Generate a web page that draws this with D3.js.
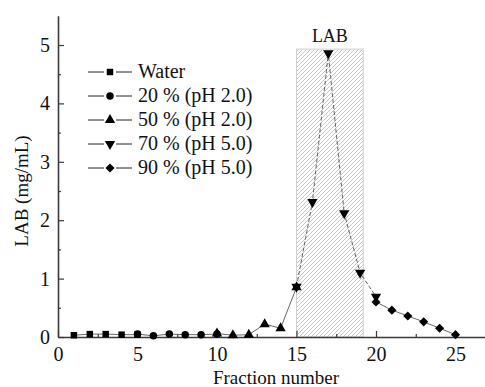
<!DOCTYPE html>
<html>
<head>
<meta charset="utf-8">
<script src="https://cdn.jsdelivr.net/npm/d3@7"></script>
<style>
  html, body { margin: 0; padding: 0; background: #fff; }
  svg text { font-family: "Liberation Serif", "Times New Roman", serif; fill: #111; }
</style>
</head>
<body>
<div id="chart"></div>
<script>
(function () {
    "use strict";

    const width = 485;
    const height = 387;
    const serif = "'Liberation Serif', 'Times New Roman', serif";

    // Values
    const seriesNames = ["Water", "20 % (pH 2.0)", "50 % (pH 2.0)", "70 % (pH 5.0)", "90 % (pH 5.0)"];
    const waterX = [1, 2, 3, 4, 5];
    const waterY = [0.03, 0.05, 0.05, 0.04, 0.04];
    const ph20X = [5, 6, 7, 8, 9, 10];
    const ph20Y = [0.05, 0.02, 0.05, 0.04, 0.04, 0.05];
    const ph50X = [10, 11, 12, 13, 14, 15];
    const ph50Y = [0.06, 0.03, 0.04, 0.22, 0.15, 0.85];
    const ph70X = [15, 16, 17, 18, 19, 20];
    const ph70Y = [0.86, 2.31, 4.86, 2.12, 1.10, 0.69];
    const ph90X = [20, 21, 22, 23, 24, 25];
    const ph90Y = [0.60, 0.46, 0.36, 0.26, 0.15, 0.04];
    const labRange = [15, 19.2];
    const labTop = 4.93;
    const xTicks = [0, 5, 10, 15, 20, 25];
    const yTicks = [0, 1, 2, 3, 4, 5];

    const series = [
        { name: seriesNames[0], xs: waterX, ys: waterY, symbol: "square" },
        { name: seriesNames[1], xs: ph20X, ys: ph20Y, symbol: "circle" },
        { name: seriesNames[2], xs: ph50X, ys: ph50Y, symbol: "triangle" },
        { name: seriesNames[3], xs: ph70X, ys: ph70Y, symbol: "down", dashed: true },
        { name: seriesNames[4], xs: ph90X, ys: ph90Y, symbol: "diamond" }
    ];

    const x = d3.scaleLinear().domain([0, 27]).range([58, 58 + 27 * 15.9]);
    const y = d3.scaleLinear().domain([0, 5.5]).range([337, 337 - 5.5 * 58.4]);

    const svg = d3.select("#chart").append("svg")
        .attr("width", width)
        .attr("height", height)
        .attr("font-family", serif);

    const defs = svg.append("defs");
    const pat = defs.append("pattern")
        .attr("id", "hatch")
        .attr("patternUnits", "userSpaceOnUse")
        .attr("width", 4)
        .attr("height", 4);
    pat.append("path")
        .attr("d", "M-1,1 l2,-2 M0,4 l4,-4 M3,5 l2,-2")
        .attr("stroke", "#b8b8b8")
        .attr("stroke-width", 0.8);

    // shaded LAB region
    svg.append("rect")
        .attr("x", x(labRange[0]))
        .attr("y", y(labTop))
        .attr("width", x(labRange[1]) - x(labRange[0]))
        .attr("height", y(0) - y(labTop))
        .attr("fill", "url(#hatch)")
        .attr("stroke", "#d0d0d0")
        .attr("stroke-width", 1);

    svg.append("text")
        .attr("x", (x(labRange[0]) + x(labRange[1])) / 2)
        .attr("y", 42)
        .attr("text-anchor", "middle")
        .attr("font-size", 18)
        .text("LAB");

    // axes
    const axisColor = "#3a3a3a";
    const fmt = d3.format("d");
    const xAxis = d3.axisBottom(x).tickValues(xTicks).tickFormat(fmt).tickSize(-6).tickPadding(10).tickSizeOuter(0);
    const gx = svg.append("g").attr("transform", `translate(0,${y(0)})`).call(xAxis);
    gx.attr("font-family", serif);
    gx.select(".domain").attr("stroke", axisColor).attr("stroke-width", 1.6);
    gx.selectAll(".tick line").attr("stroke", axisColor).attr("stroke-width", 1.2);
    gx.selectAll(".tick text").attr("font-size", 20).attr("fill", "#111");
    const gxm = svg.append("g").attr("transform", `translate(0,${y(0)})`)
        .call(d3.axisBottom(x).tickValues(d3.range(2.5, 27, 5)).tickSize(-3).tickFormat(""));
    gxm.select(".domain").remove();
    gxm.selectAll(".tick line").attr("stroke", axisColor).attr("stroke-width", 1.2);

    const yAxis = d3.axisLeft(y).tickValues(yTicks).tickFormat(fmt).tickSize(-6).tickPadding(8).tickSizeOuter(0);
    const gy = svg.append("g").attr("transform", `translate(${x(0)},0)`).call(yAxis);
    gy.attr("font-family", serif);
    gy.select(".domain").attr("stroke", axisColor).attr("stroke-width", 1.6);
    gy.selectAll(".tick line").attr("stroke", axisColor).attr("stroke-width", 1.2);
    gy.selectAll(".tick text").attr("font-size", 20).attr("fill", "#111");
    const gym = svg.append("g").attr("transform", `translate(${x(0)},0)`)
        .call(d3.axisLeft(y).tickValues(d3.range(0.5, 5.5, 1)).tickSize(-3).tickFormat(""));
    gym.select(".domain").remove();
    gym.selectAll(".tick line").attr("stroke", axisColor).attr("stroke-width", 1.2);

    svg.append("text")
        .attr("x", 276)
        .attr("y", 384)
        .attr("text-anchor", "middle")
        .attr("font-size", 19)
        .text("Fraction number");

    svg.append("text")
        .attr("transform", "translate(28,191) rotate(-90)")
        .attr("text-anchor", "middle")
        .attr("font-size", 19)
        .text("LAB (mg/mL)");

    function symbolPath(kind) {
        if (kind === "square") return d3.symbol(d3.symbolSquare, 42)();
        if (kind === "circle") return d3.symbol(d3.symbolCircle, 44)();
        if (kind === "triangle") return d3.symbol(d3.symbolTriangle, 46)();
        if (kind === "down") return d3.symbol(d3.symbolTriangle, 46)();
        return d3.symbol(d3.symbolSquare, 42)();
    }
    function symbolTransform(kind) {
        if (kind === "down") return " rotate(180)";
        if (kind === "diamond") return " rotate(45)";
        return "";
    }

    const line = d3.line().x((d) => x(d[0])).y((d) => y(d[1]));

    series.forEach((s) => {
        const pts = s.xs.map((v, i) => [v, s.ys[i]]);
        svg.append("path")
            .attr("d", line(pts))
            .attr("fill", "none")
            .attr("stroke", "#555")
            .attr("stroke-width", 0.9)
            .attr("stroke-dasharray", s.dashed ? "4,2" : null);
    });

    series.forEach((s) => {
        const pts = s.xs.map((v, i) => [v, s.ys[i]]);
        svg.append("g").selectAll("path")
            .data(pts)
            .join("path")
            .attr("d", symbolPath(s.symbol))
            .attr("transform", (d) => `translate(${x(d[0])},${y(d[1])})${symbolTransform(s.symbol)}`)
            .attr("fill", "#000");
    });

    // legend
    const legend = svg.append("g").attr("transform", "translate(88,72)");
    series.forEach((s, i) => {
        const g = legend.append("g").attr("transform", `translate(0,${i * 24})`);
        g.append("line").attr("x1", 0).attr("x2", 16).attr("stroke", "#222").attr("stroke-width", 1);
        g.append("line").attr("x1", 28).attr("x2", 44).attr("stroke", "#222").attr("stroke-width", 1);
        g.append("path")
            .attr("d", symbolPath(s.symbol))
            .attr("transform", `translate(22,0)${symbolTransform(s.symbol)}`)
            .attr("fill", "#000");
        g.append("text")
            .attr("x", 50)
            .attr("y", 6)
            .attr("font-size", 20)
            .text(s.name);
    });
}());
</script>
</body>
</html>
